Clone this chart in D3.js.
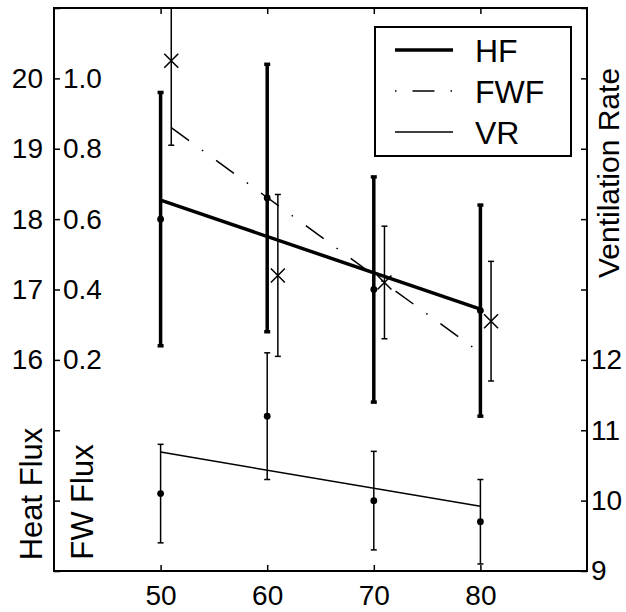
<!DOCTYPE html>
<html>
<head>
<meta charset="utf-8">
<script src="https://cdn.jsdelivr.net/npm/d3@7"></script>
<style>
  html, body { margin: 0; padding: 0; background: #fff; }
  svg { display: block; }
  text { font-family: "Liberation Sans", Arial, Helvetica, sans-serif; fill: #000; }
</style>
</head>
<body>
<svg id="chart" width="626" height="612"></svg>
<script>
// ---------------- data ----------------
const xCats = [50, 60, 70, 80];
const hfMean = [18.0, 18.3, 17.0, 16.7];
const hfErr = [1.8, 1.9, 1.6, 1.5];
const hfFitX = [50, 80];
const hfFit = [18.27, 16.72];

const fwfX = [51, 61, 71, 81];
const fwfMean = [1.05, 0.44, 0.42, 0.31];
const fwfErr = [0.24, 0.23, 0.16, 0.17];
const fwfFitX = [51, 80];
const fwfFit = [0.86, 0.22];

const vrMean = [10.1, 11.2, 10.0, 9.7];
const vrErr = [0.7, 0.9, 0.7, 0.6];
const vrFitX = [50, 80];
const vrFit = [10.69, 9.92];

const xTicks = [50, 60, 70, 80];
const hfTicks = [13, 14, 15, 16, 17, 18, 19, 20, 21];
const hfLabels = [16, 17, 18, 19, 20];
const fwfTicks = [0.2, 0.4, 0.6, 0.8, 1.0];
const vrTicks = [9, 10, 11, 12, 13, 14, 15, 16, 17];
const vrLabels = [9, 10, 11, 12];

const legendNames = ["HF", "FWF", "VR"];

// ---------------- layout ----------------
const L = 54, R = 587, T = 8, B = 571;
const svg = d3.select("#chart");

const x = d3.scaleLinear().domain([40, 90]).range([L, R]);
const yHF = d3.scaleLinear().domain([13, 21]).range([B, T]);
const yFW = d3.scaleLinear().domain([-0.4, 1.2]).range([B, T]);
const yVR = d3.scaleLinear().domain([9, 17]).range([B, T]);

svg.append("defs").append("clipPath").attr("id", "clip")
  .append("rect").attr("x", L).attr("y", T).attr("width", R - L).attr("height", B - T);

const plot = svg.append("g").attr("clip-path", "url(#clip)");

function errorBars(g, xs, means, errs, ys, sw, cap) {
  xs.forEach((xv, i) => {
    const px = x(xv);
    const y1 = ys(means[i] + errs[i]);
    const y0 = ys(means[i] - errs[i]);
    g.append("line").attr("x1", px).attr("x2", px).attr("y1", y1).attr("y2", y0)
      .attr("stroke", "#000").attr("stroke-width", sw);
    [y1, y0].forEach(yy => {
      g.append("line").attr("x1", px - cap).attr("x2", px + cap).attr("y1", yy).attr("y2", yy)
        .attr("stroke", "#000").attr("stroke-width", sw);
    });
  });
}

function fitLine(g, xs, vals, ys, sw, dash) {
  const line = d3.line().x((d, i) => x(xs[i])).y(d => ys(d));
  const p = g.append("path").datum(vals).attr("d", line)
    .attr("fill", "none").attr("stroke", "#000").attr("stroke-width", sw);
  if (dash) p.attr("stroke-dasharray", dash);
}

// HF
errorBars(plot, xCats, hfMean, hfErr, yHF, 3.5, 3);
fitLine(plot, hfFitX, hfFit, yHF, 3.5);
plot.selectAll(".hfdot").data(hfMean).enter().append("circle")
  .attr("cx", (d, i) => x(xCats[i])).attr("cy", d => yHF(d)).attr("r", 3.4).attr("fill", "#000");

// FWF
errorBars(plot, fwfX, fwfMean, fwfErr, yFW, 1.5, 3);
fitLine(plot, fwfFitX, fwfFit, yFW, 1.5, "22,16,1.5,16");
fwfMean.forEach((d, i) => {
  const px = x(fwfX[i]), py = yFW(d), s = 7;
  plot.append("path").attr("d", `M${px - s},${py - s}L${px + s},${py + s}M${px - s},${py + s}L${px + s},${py - s}`)
    .attr("stroke", "#000").attr("stroke-width", 1.5).attr("fill", "none");
});

// VR
errorBars(plot, xCats, vrMean, vrErr, yVR, 1.5, 3);
fitLine(plot, vrFitX, vrFit, yVR, 1.5);
plot.selectAll(".vrdot").data(vrMean).enter().append("circle")
  .attr("cx", (d, i) => x(xCats[i])).attr("cy", d => yVR(d)).attr("r", 3.4).attr("fill", "#000");

// ---------------- axes ----------------
function styleAxis(g, fs) {
  g.select(".domain").remove();
  g.selectAll(".tick line").attr("stroke", "#000").attr("stroke-width", 1.5);
  g.selectAll("text").attr("font-size", fs).attr("font-family", "Liberation Sans, Arial, sans-serif").attr("fill", "#000");
}

const ax = svg.append("g").attr("transform", `translate(0,${B})`)
  .call(d3.axisBottom(x).tickValues(xTicks).tickSize(-6).tickPadding(14).tickFormat(d3.format("d")));
styleAxis(ax, 28);

const axTop = svg.append("g").attr("transform", `translate(0,${T})`)
  .call(d3.axisTop(x).tickValues(xTicks).tickSize(-6).tickFormat(""));
styleAxis(axTop, 28);

const ayL = svg.append("g").attr("transform", `translate(${L},0)`)
  .call(d3.axisLeft(yHF).tickValues(hfTicks).tickSize(-6).tickPadding(11)
    .tickFormat(d => hfLabels.includes(d) ? d3.format("d")(d) : ""));
styleAxis(ayL, 28);

const ayF = svg.append("g").attr("transform", `translate(${L},0)`)
  .call(d3.axisRight(yFW).tickValues(fwfTicks).tickSize(0).tickPadding(9).tickFormat(d3.format(".1f")));
styleAxis(ayF, 28);

const ayR = svg.append("g").attr("transform", `translate(${R},0)`)
  .call(d3.axisRight(yVR).tickValues(vrTicks).tickSize(-6).tickPadding(4)
    .tickFormat(d => vrLabels.includes(d) ? d3.format("d")(d) : ""));
styleAxis(ayR, 28);

// box
svg.append("rect").attr("x", L).attr("y", T).attr("width", R - L).attr("height", B - T)
  .attr("fill", "none").attr("stroke", "#000").attr("stroke-width", 2);

// axis labels
svg.append("text").attr("transform", `translate(42,${494}) rotate(-90)`)
  .attr("text-anchor", "middle").attr("font-size", 31).text("Heat Flux");
svg.append("text").attr("transform", `translate(93,${502}) rotate(-90)`)
  .attr("text-anchor", "middle").attr("font-size", 31).text("FW Flux");
svg.append("text").attr("transform", `translate(619,${173}) rotate(-90)`)
  .attr("text-anchor", "middle").attr("font-size", 30).text("Ventilation Rate");

// ---------------- legend ----------------
const lg = svg.append("g");
lg.append("rect").attr("x", 375).attr("y", 27).attr("width", 196).attr("height", 129)
  .attr("fill", "#fff").attr("stroke", "#000").attr("stroke-width", 2);
const legendY = [50, 91, 132];
const legendW = [3.5, 1.5, 1.5];
const legendDash = [null, "22,16,1.5,16", null];
legendNames.forEach((name, i) => {
  const ln = lg.append("line").attr("x1", 395).attr("x2", 453).attr("y1", legendY[i]).attr("y2", legendY[i])
    .attr("stroke", "#000").attr("stroke-width", legendW[i]);
  if (legendDash[i]) ln.attr("stroke-dasharray", legendDash[i]).attr("stroke-dashoffset", 38);
  lg.append("text").attr("x", 475).attr("y", legendY[i]).attr("dy", "0.36em")
    .attr("font-size", 32).text(name);
});
</script>
</body>
</html>
